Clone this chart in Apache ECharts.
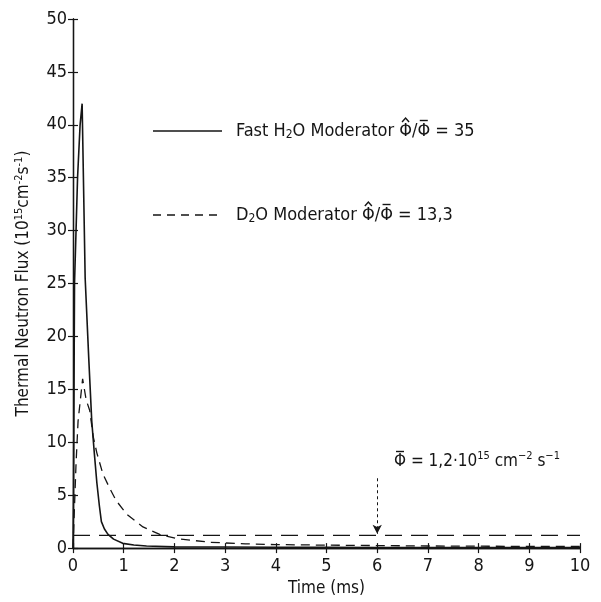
<!DOCTYPE html>
<html><head><meta charset="utf-8">
<script src="https://cdn.jsdelivr.net/npm/echarts@6/dist/echarts.min.js"></script>
<style>html,body{margin:0;padding:0;background:#fff}#c{width:601px;height:602px}</style>
</head><body><div id="c"></div>
<script>
// Data
const timeH2O = [0, 0.01, 0.02, 0.03, 0.06, 0.09, 0.14, 0.18, 0.24, 0.31, 0.37, 0.42, 0.47, 0.52, 0.56, 0.62, 0.69, 0.8, 0.98, 1.2, 1.45, 2, 3, 4, 5, 6, 7, 8, 9, 10];
const fluxH2O = [0, 5, 15, 25, 30, 35, 40, 42, 25.5, 18, 12, 9, 6.2, 4, 2.5, 1.8, 1.3, 0.85, 0.45, 0.3, 0.2, 0.12, 0.1, 0.08, 0.07, 0.06, 0.06, 0.05, 0.05, 0.05];
const timeD2O = [0, 0.03, 0.06, 0.1, 0.19, 0.26, 0.33, 0.4, 0.47, 0.59, 0.73, 0.85, 1.06, 1.38, 1.71, 2.04, 2.7, 3.4, 4, 5, 6, 7, 8, 9, 10];
const fluxD2O = [0, 4, 8, 12, 16, 14, 13, 10.5, 9, 7, 5.6, 4.5, 3.2, 2.0, 1.3, 0.9, 0.55, 0.4, 0.33, 0.28, 0.24, 0.2, 0.18, 0.16, 0.15];
const meanTime = [0, 10];
const meanFlux = [1.2, 1.2];
const arrowTime = 6;
const arrowFrom = 6.6, arrowTo = 1.35;
const xTicks = [0,1,2,3,4,5,6,7,8,9,10];
const yTicks = [0,5,10,15,20,25,30,35,40,45,50];
const ratioH2O = '35';
const ratioD2O = '13,3';
const meanLabel = '1,2';

const FONT = 'DejaVu Sans Condensed';
const INK = '#151515';
const zip = (a,b) => a.map((v,i)=>[v,b[i]]);

// text composition helper (measures pieces so accents sit over Φ)
const mctx = document.createElement('canvas').getContext('2d');
function tw(t, s){ mctx.font = s + 'px "' + FONT + '"'; return mctx.measureText(t).width; }
function compose(x0, y, pieces){
  const els = []; let x = x0;
  pieces.forEach(p=>{
    const s = p.s || 18, dy = p.dy || 0;
    els.push({type:'text', x:x, y:y+dy, z:10, style:{text:p.t, fontFamily:FONT, fontSize:s, fill:INK, align:'left', verticalAlign:'middle'}});
    const w = tw(p.t, s);
    if(p.acc){
      const cx = x + w/2;
      if(p.acc==='hat') els.push({type:'polyline', z:10, shape:{points:[[cx-3.5,y-9],[cx,y-13],[cx+3.5,y-9]]}, style:{stroke:INK, lineWidth:1.4, fill:null}});
      else els.push({type:'line', z:10, shape:{x1:cx-4, y1:y-10.5, x2:cx+4, y2:y-10.5}, style:{stroke:INK, lineWidth:1.4}});
    }
    x += w;
  });
  return els;
}
function legendRow(y, dash, label){
  return [{type:'line', z:10, shape:{x1:153, y1:y, x2:222, y2:y}, style:{stroke:INK, lineWidth:dash?1.3:1.6, lineDash:dash||null}}]
    .concat(compose(236, y, label));
}

const axisCommon = {
  type:'value', splitLine:{show:false},
  axisLine:{show:true, lineStyle:{color:INK, width:1.3}},
  axisTick:{show:true, inside:true, length:5, lineStyle:{color:INK, width:1.2}},
};
const graphics = []
  .concat(legendRow(131, null, [{t:'Fast H'},{t:'2', s:12, dy:4},{t:'O Moderator '},{t:'\u03A6', acc:'hat'},{t:'/'},{t:'\u03A6', acc:'bar'},{t:' = ' + ratioH2O}]))
  .concat(legendRow(215, [8,6], [{t:'D'},{t:'2', s:12, dy:4},{t:'O Moderator '},{t:'\u03A6', acc:'hat'},{t:'/'},{t:'\u03A6', acc:'bar'},{t:' = ' + ratioD2O}]))
  .concat(compose(394, 462, [{t:'\u03A6', s:17, acc:'bar'},{t:' = ' + meanLabel + '\u00B710', s:17},{t:'15', s:11, dy:-6},{t:' cm', s:17},{t:'\u22122', s:11, dy:-6},{t:' s', s:17},{t:'\u22121', s:11, dy:-6}]));

const chart = echarts.init(document.getElementById('c'), null, {renderer:'canvas'});
chart.setOption({
  animation:false,
  backgroundColor:'#fff',
  grid:{left:73, right:21, top:19, bottom:50},
  textStyle:{fontFamily:FONT, color:INK},
  xAxis:[
    Object.assign({}, axisCommon, {min:0, max:10, interval:1, position:'bottom',
      axisLabel:{color:INK, fontFamily:FONT, fontSize:18, margin:9, formatter:v=>xTicks.includes(v)?String(v):''},
      name:'Time (ms)', nameLocation:'middle', nameGap:31,
      nameTextStyle:{color:INK, fontFamily:FONT, fontSize:17}}),
    Object.assign({}, axisCommon, {min:0, max:10, interval:1, position:'top', axisLabel:{show:false}})
  ],
  yAxis:[
    Object.assign({}, axisCommon, {min:0, max:50, interval:5, position:'left',
      axisLabel:{color:INK, fontFamily:FONT, fontSize:18, margin:6, formatter:v=>yTicks.includes(v)?String(v):''},
      name:'Thermal Neutron Flux (10{sup|15}cm{sup|-2}s{sup|-1})', nameLocation:'middle', nameGap:40, nameRotate:90,
      nameTextStyle:{color:INK, fontFamily:FONT, fontSize:17,
        rich:{sup:{fontSize:11, verticalAlign:'top', padding:[0,0,8,0], fontFamily:FONT, color:INK}}}}),
    Object.assign({}, axisCommon, {min:0, max:50, interval:5, position:'right', axisLabel:{show:false}})
  ],
  series:[
    {name:'Fast H2O Moderator', type:'line', data:zip(timeH2O, fluxH2O), symbol:'none', smooth:false,
      lineStyle:{color:INK, width:1.6}, itemStyle:{color:INK}},
    {name:'D2O Moderator', type:'line', data:zip(timeD2O, fluxD2O), symbol:'none', smooth:false,
      lineStyle:{color:INK, width:1.3, type:[9,6]}, itemStyle:{color:INK}},
    {name:'mean', type:'line', data:zip(meanTime, meanFlux), symbol:'none', silent:true,
      lineStyle:{color:INK, width:1.3, type:[17,9]},
      markLine:{silent:true, symbol:['none','arrow'], symbolSize:[7,9],
        label:{show:false}, lineStyle:{color:INK, width:1, type:[3,3]},
        data:[[{coord:[arrowTime, arrowFrom]},{coord:[arrowTime, arrowTo]}]]}}
  ],
  graphic:graphics
});
</script></body></html>
